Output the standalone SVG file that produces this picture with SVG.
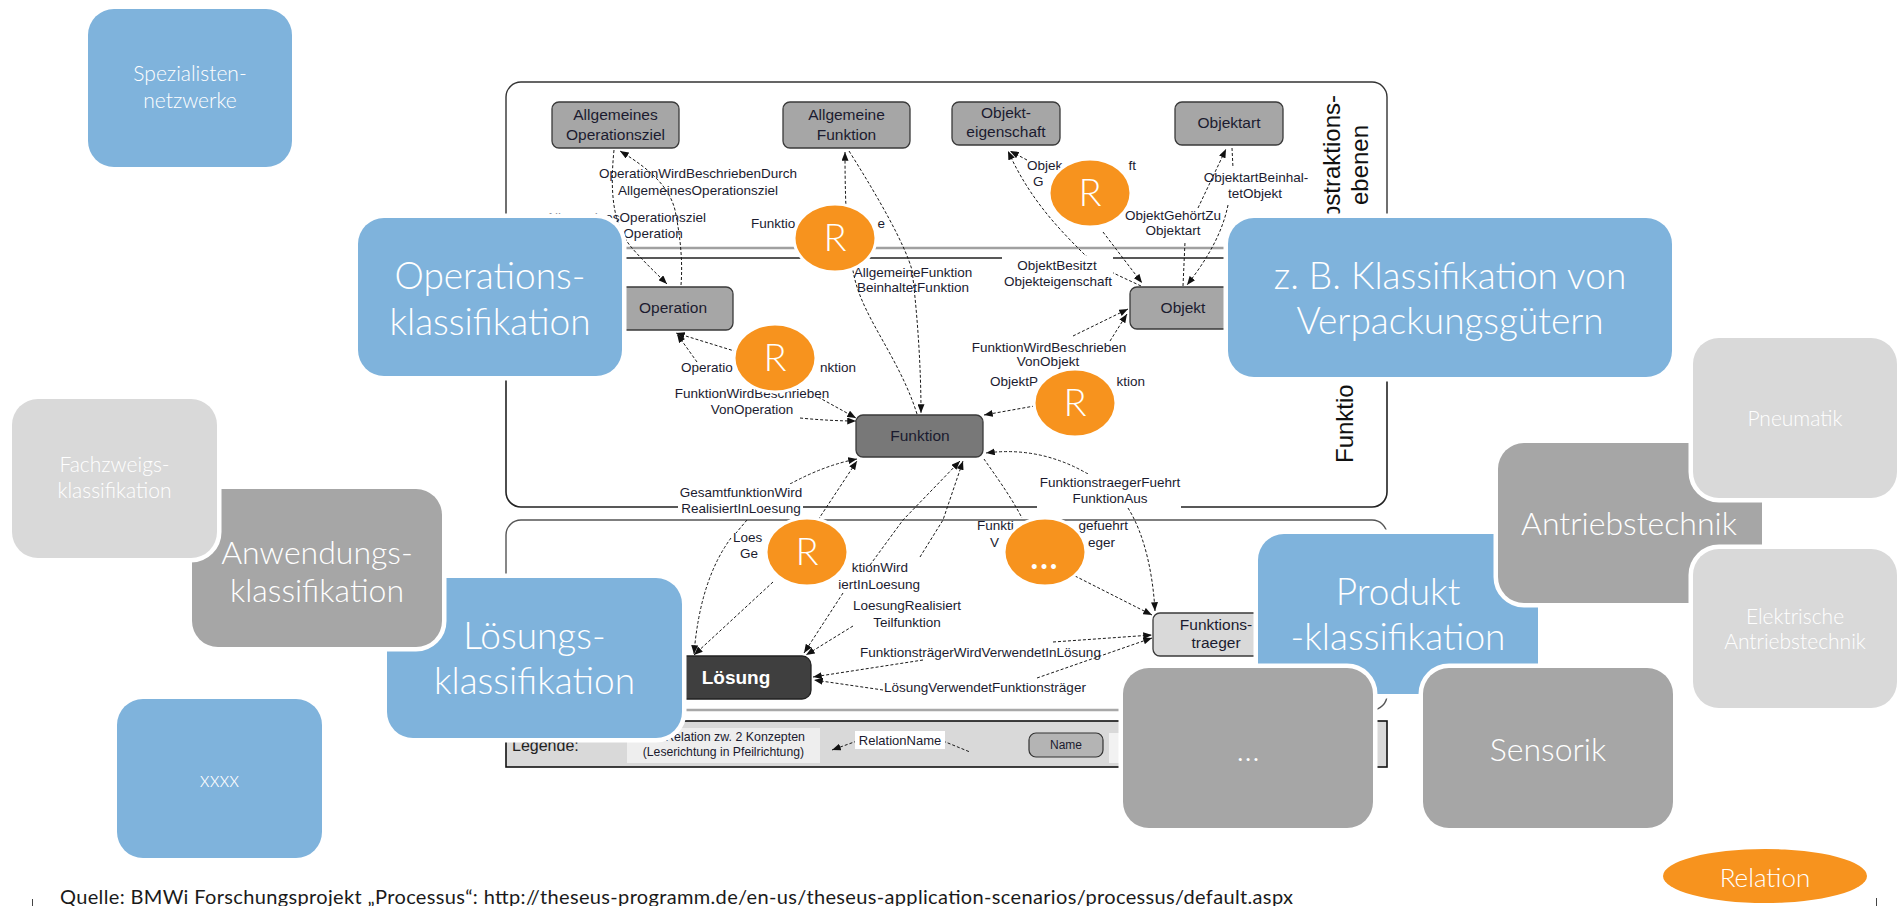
<svg xmlns="http://www.w3.org/2000/svg" width="1898" height="906" viewBox="0 0 1898 906">
  <style>
    .cont { fill: none; stroke: #333; stroke-width: 1.4; }
    .node { fill: #a6a6a6; stroke: #3a3a3a; stroke-width: 1.3; }
    .node.dark { fill: #787878; }
    .node.pale { fill: #d9d9d9; }
    .nt { font-family: "Liberation Sans", Arial, sans-serif; font-size: 15.5px; fill: #1b1b2f; text-anchor: middle; }
    .nt.inv { fill: #fff; font-weight: bold; font-size: 19px; }
    .el { font-family: "Liberation Sans", Arial, sans-serif; font-size: 13.5px; fill: #1b1b2f; text-anchor: middle; }
    .st { text-anchor: start; }
    .en { text-anchor: end; }
    .dl { fill: none; stroke: #1a1a1a; stroke-width: 1; stroke-dasharray: 3 2; }
    .arr { marker-end: url(#ah); }
    .rel { fill: #f7931e; stroke: #fff; stroke-width: 3; }
    .rt { font-family: "Lato", "Open Sans", sans-serif; font-weight: 300; font-size: 38px; fill: #fff; text-anchor: middle; }
    .ov { stroke: #fff; stroke-width: 9; paint-order: stroke; }
    .blue { fill: #7fb3dc; }
    .grey { fill: #a6a6a6; }
    .light { fill: #d9d9d9; }
    .ot { font-family: "Lato", "Open Sans", sans-serif; font-weight: 300; fill: #fff; text-anchor: middle; }
    .big { font-size: 37px; }
    .mid { font-size: 32px; }
    .sm { font-size: 21px; }
  </style>
  <defs>
    <marker id="ah" viewBox="0 0 10 8" refX="10" refY="4" markerWidth="9" markerHeight="7" markerUnits="userSpaceOnUse" orient="auto">
      <path d="M0,0 L10,4 L0,8 z" fill="#111"/>
    </marker>
  </defs>

  <rect width="1898" height="906" fill="#fff"/>

  <!-- layered concept model -->
  <g id="layers">
    <rect class="cont" x="506" y="82" width="881" height="166" rx="15"/>
    <line x1="521" y1="248" x2="1372" y2="248" stroke="#a0a0a0" stroke-width="2.5"/>
    <rect class="cont" x="506" y="258" width="881" height="249" rx="15" style="stroke:#222;stroke-width:1.6"/>
    <rect class="cont" x="506" y="520" width="881" height="190" rx="15" style="stroke:#555"/>
    <line x1="521" y1="710" x2="1372" y2="710" stroke="#a8a8a8" stroke-width="2.5"/>
    <text font-family="Liberation Sans, Arial, sans-serif" font-size="24" fill="#111" text-anchor="middle" transform="translate(1340,165) rotate(-90)">Abstraktions-</text>
    <text font-family="Liberation Sans, Arial, sans-serif" font-size="24" fill="#111" text-anchor="middle" transform="translate(1368,165) rotate(-90)">ebenen</text>
    <text font-family="Liberation Sans, Arial, sans-serif" font-size="24" fill="#111" transform="translate(1353,463) rotate(-90)">Funktio</text>
  </g>

  <!-- connectors of the concept model -->
  <g id="connectors">
    <path class="dl arr" d="M614,150 C610,190 612,225 632,248 C645,263 655,272 667,284"/>
    <path class="dl arr" d="M681,285 C683,260 680,235 675,210 C670,190 655,172 620,151"/>
    <path class="dl arr" d="M917,414 C900,360 865,320 855,280 C848,250 845,220 845,152"/>
    <path class="dl arr" d="M849,151 C880,200 905,245 912,270 C918,320 921,370 921,413"/>
    <path class="dl arr" d="M1141,286 C1120,276 1100,268 1085,255 C1060,230 1030,200 1008,151"/>
    <path class="dl arr" d="M1027,160 L1010,151"/>
    <path class="dl arr" d="M1103,232 L1142,283"/>
    <path class="dl" d="M1183,286 L1185,242"/>
    <path class="dl arr" d="M1198,208 L1226,149"/>
    <path class="dl" d="M1232,148 L1233,168"/>
    <path class="dl arr" d="M1228,205 C1222,235 1205,262 1187,285"/>
    <path class="dl arr" d="M770,362 L676,333"/>
    <path class="dl arr" d="M697,362 L677,334"/>
    <path class="dl arr" d="M818,397 L856,418"/>
    <path class="dl arr" d="M800,418 C820,420 840,421 856,421"/>
    <path class="dl arr" d="M1073,336 L1128,309"/>
    <path class="dl arr" d="M1110,341 L1127,314"/>
    <path class="dl arr" d="M1040,405 L984,415"/>
    <path class="dl arr" d="M1088,474 Q1040,446 986,453"/>
    <path class="dl arr" d="M1128,508 C1145,535 1153,575 1155,611"/>
    <path class="dl" d="M984,459 C995,475 1010,495 1022,518"/>
    <path class="dl arr" d="M1075,576 L1152,615"/>
    <path class="dl arr" d="M1053,642 L1152,635"/>
    <path class="dl arr" d="M1037,678 L1152,638"/>
    <path class="dl arr" d="M923,660 L813,677"/>
    <path class="dl arr" d="M883,690 L814,680"/>
    <path class="dl arr" d="M790,484 Q825,465 857,459"/>
    <path class="dl arr" d="M818,520 L857,461"/>
    <path class="dl arr" d="M870,565 L903,520 L960,461"/>
    <path class="dl arr" d="M920,557 L943,520 L963,461"/>
    <path class="dl arr" d="M773,582 L694,655"/>
    <path class="dl arr" d="M731,538 Q700,580 694,654"/>
    <path class="dl" d="M747,520 L736,533"/>
    <path class="dl arr" d="M843,593 L804,653"/>
    <path class="dl arr" d="M853,626 L806,655"/>
  </g>

  <!-- edge labels -->
  <g id="edge-labels">
    <text class="el" x="698" y="178">OperationWirdBeschriebenDurch</text>
    <text class="el" x="698" y="195">AllgemeinesOperationsziel</text>
    <text class="el" x="626" y="222">AllgemeinesOperationsziel</text>
    <text class="el" x="623" y="238">BeinhaltetOperation</text>
    <text class="el st" x="751" y="228">Funktio</text>
    <text class="el en" x="885" y="228">e</text>
    <text class="el" x="913" y="277">AllgemeineFunktion</text>
    <text class="el" x="913" y="292">BeinhaltetFunktion</text>
    <text class="el st" x="1027" y="170">Objek</text>
    <text class="el en" x="1136" y="170">ft</text>
    <text class="el st" x="1033" y="186">G</text>
    <text class="el" x="1173" y="220">ObjektGehörtZu</text>
    <text class="el" x="1173" y="235">Objektart</text>
    <text class="el" x="1256" y="182">ObjektartBeinhal-</text>
    <text class="el" x="1255" y="198">tetObjekt</text>
    <rect x="1002" y="256" width="111" height="34" fill="#fff"/>
    <text class="el" x="1057" y="270">ObjektBesitzt</text>
    <text class="el" x="1058" y="286">Objekteigenschaft</text>
    <text class="el st" x="681" y="372">Operatio</text>
    <text class="el en" x="856" y="372">nktion</text>
    <text class="el" x="752" y="398">FunktionWirdBeschrieben</text>
    <text class="el" x="752" y="414">VonOperation</text>
    <text class="el" x="1049" y="352">FunktionWirdBeschrieben</text>
    <text class="el" x="1048" y="366">VonObjekt</text>
    <text class="el st" x="990" y="386">ObjektP</text>
    <text class="el en" x="1145" y="386">ktion</text>
    <rect x="1037" y="474" width="144" height="34" fill="#fff"/>
    <text class="el" x="1110" y="487">FunktionstraegerFuehrt</text>
    <text class="el" x="1110" y="503">FunktionAus</text>
    <rect x="678" y="484" width="125" height="34" fill="#fff"/>
    <text class="el" x="741" y="497">GesamtfunktionWird</text>
    <text class="el" x="741" y="513">RealisiertInLoesung</text>
    <text class="el st" x="733" y="542">Loes</text>
    <text class="el st" x="740" y="558">Ge</text>
    <text class="el en" x="908" y="572">ktionWird</text>
    <text class="el en" x="920" y="589">iertInLoesung</text>
    <text class="el" x="907" y="610">LoesungRealisiert</text>
    <text class="el" x="907" y="627">Teilfunktion</text>
    <text class="el st" x="860" y="657">FunktionsträgerWirdVerwendetInLösung</text>
    <text class="el st" x="884" y="692">LösungVerwendetFunktionsträger</text>
    <text class="el st" x="977" y="530">Funkti</text>
    <text class="el en" x="1128" y="530">gefuehrt</text>
    <text class="el st" x="990" y="547">V</text>
    <text class="el en" x="1115" y="547">eger</text>
  </g>

  <!-- concept nodes -->
  <g id="node-allg-opziel">
    <rect class="node" x="552" y="102" width="127" height="46" rx="7"/>
    <text class="nt" x="615.5" y="120">Allgemeines</text>
    <text class="nt" x="615.5" y="140">Operationsziel</text>
  </g>
  <g id="node-allg-funktion">
    <rect class="node" x="783" y="102" width="127" height="46" rx="7"/>
    <text class="nt" x="846.5" y="120">Allgemeine</text>
    <text class="nt" x="846.5" y="140">Funktion</text>
  </g>
  <g id="node-objekteigenschaft">
    <rect class="node" x="952" y="102" width="108" height="43" rx="7"/>
    <text class="nt" x="1006" y="118">Objekt-</text>
    <text class="nt" x="1006" y="137">eigenschaft</text>
  </g>
  <g id="node-objektart">
    <rect class="node" x="1175" y="102" width="108" height="43" rx="7"/>
    <text class="nt" x="1229" y="128">Objektart</text>
  </g>
  <g id="node-operation">
    <rect class="node" x="612" y="287" width="121" height="43" rx="7"/>
    <text class="nt" x="673" y="313">Operation</text>
  </g>
  <g id="node-objekt">
    <rect class="node" x="1130" y="287" width="110" height="42" rx="7"/>
    <text class="nt" x="1183" y="313">Objekt</text>
  </g>
  <g id="node-funktion">
    <rect class="node dark" x="856" y="415" width="127" height="42" rx="7"/>
    <text class="nt" x="920" y="441">Funktion</text>
  </g>
  <g id="node-loesung">
    <rect x="660" y="656" width="151" height="43" rx="9" fill="#3f3f3f" stroke="#222" stroke-width="1.3"/>
    <text class="nt inv" x="736" y="684">Lösung</text>
  </g>
  <g id="node-funktionstraeger">
    <rect class="node pale" x="1153" y="613" width="127" height="43" rx="7"/>
    <text class="nt" x="1216" y="630">Funktions-</text>
    <text class="nt" x="1216" y="648">traeger</text>
  </g>

  <!-- legend -->
  <g id="legend">
    <rect x="506" y="721" width="881" height="46" fill="#d9d9d9" stroke="#111" stroke-width="1.6"/>
    <text x="512" y="751" font-family="Liberation Sans, Arial, sans-serif" font-size="16" fill="#222">Legende:</text>
    <rect x="627" y="728" width="193" height="35" fill="#eeeeee"/>
    <text class="el en" x="805" y="741" style="font-size:12.4px">Relation zw. 2 Konzepten</text>
    <text class="el en" x="804" y="756" style="font-size:12.2px">(Leserichtung in Pfeilrichtung)</text>
    <path class="dl" d="M943,741 L970,752"/>
    <path class="dl arr" d="M857,741 L832,750"/>
    <rect x="855" y="731" width="90" height="18" fill="#fff"/>
    <text class="el" x="900" y="745" style="font-size:13px">RelationName</text>
    <rect x="1029" y="733" width="74" height="24" rx="7" fill="#b4b4b4" stroke="#333" stroke-width="1.2"/>
    <text class="el" x="1066" y="749" style="font-size:12px">Name</text>
    <rect x="1109" y="733" width="40" height="30" fill="#f2f2f2"/>
  </g>

  <!-- relation markers -->
  <g id="rel-1"><ellipse class="rel" cx="835" cy="238" rx="41" ry="34"/><text class="rt" x="835" y="251">R</text></g>
  <g id="rel-2"><ellipse class="rel" cx="1090" cy="193" rx="41" ry="34"/><text class="rt" x="1090" y="206">R</text></g>
  <g id="rel-3"><ellipse class="rel" cx="775" cy="358" rx="41" ry="34"/><text class="rt" x="775" y="371">R</text></g>
  <g id="rel-4"><ellipse class="rel" cx="1075" cy="403" rx="41" ry="34"/><text class="rt" x="1075" y="416">R</text></g>
  <g id="rel-5"><ellipse class="rel" cx="807" cy="552" rx="41" ry="34"/><text class="rt" x="807" y="565">R</text></g>
  <g id="rel-more"><ellipse class="rel" cx="1045" cy="552" rx="41" ry="34"/><text class="rt" x="1045" y="569" style="font-weight:bold;font-size:32px;letter-spacing:2px">...</text></g>

  <!-- classification tiles, left -->
  <g id="tile-spezialisten">
    <rect class="ov blue" x="88" y="9" width="204" height="158" rx="26"/>
    <text class="ot sm" x="190" y="81">Spezialisten-</text>
    <text class="ot sm" x="190" y="108">netzwerke</text>
  </g>
  <g id="tile-operations">
    <rect class="ov blue" x="358" y="218" width="264" height="158" rx="26"/>
    <text class="ot big" x="490" y="289">Operations-</text>
    <text class="ot big" x="490" y="335">klassifikation</text>
  </g>
  <g id="tile-loesungs">
    <rect class="ov blue" x="387" y="578" width="295" height="160" rx="26"/>
    <text class="ot big" x="534.5" y="649">Lösungs-</text>
    <text class="ot big" x="534.5" y="694">klassifikation</text>
  </g>
  <g id="tile-anwendungs">
    <rect class="ov grey" x="192" y="489" width="250" height="158" rx="26"/>
    <text class="ot mid" x="317" y="564">Anwendungs-</text>
    <text class="ot mid" x="317" y="602">klassifikation</text>
  </g>
  <g id="tile-fachzweigs">
    <rect class="ov light" x="12" y="399" width="205" height="159" rx="26"/>
    <text class="ot sm" x="114.5" y="472">Fachzweigs-</text>
    <text class="ot sm" x="114.5" y="498">klassifikation</text>
  </g>
  <g id="tile-xxxx">
    <rect class="ov blue" x="117" y="699" width="205" height="159" rx="26"/>
    <text class="ot sm" x="219.5" y="787">xxxx</text>
  </g>

  <!-- classification tiles, right -->
  <g id="tile-verpackung">
    <rect class="ov blue" x="1228" y="218" width="444" height="159" rx="26"/>
    <text class="ot big" x="1450" y="289">z. B. Klassifikation von</text>
    <text class="ot big" x="1450" y="334">Verpackungsgütern</text>
  </g>
  <g id="tile-produkt">
    <rect class="ov blue" x="1258" y="534" width="280" height="160" rx="26"/>
    <text class="ot big" x="1398" y="605">Produkt</text>
    <text class="ot big" x="1398" y="650">-klassifikation</text>
  </g>
  <g id="tile-antrieb">
    <rect class="ov grey" x="1498" y="443" width="264" height="160" rx="26"/>
    <text class="ot mid" x="1629" y="535">Antriebstechnik</text>
  </g>
  <g id="tile-pneumatik">
    <rect class="ov light" x="1693" y="338" width="204" height="160" rx="26"/>
    <text class="ot sm" x="1795" y="426">Pneumatik</text>
  </g>
  <g id="tile-elektrisch">
    <rect class="ov light" x="1693" y="549" width="204" height="159" rx="26"/>
    <text class="ot sm" x="1795" y="624">Elektrische</text>
    <text class="ot sm" x="1795" y="649">Antriebstechnik</text>
  </g>
  <g id="tile-more">
    <rect class="ov grey" x="1123" y="668" width="250" height="160" rx="26"/>
    <text class="ot mid" x="1248" y="761">…</text>
  </g>
  <g id="tile-sensorik">
    <rect class="ov grey" x="1423" y="668" width="250" height="160" rx="26"/>
    <text class="ot mid" x="1548" y="761">Sensorik</text>
  </g>

  <g id="key-relation">
    <ellipse cx="1765" cy="876" rx="102" ry="27" fill="#f7931e"/>
    <text class="ot" x="1765" y="887" style="font-size:26px">Relation</text>
  </g>

  <!-- source line -->
  <g id="footer">
    <line x1="32.5" y1="899" x2="32.5" y2="906" stroke="#444" stroke-width="1"/>
    <line x1="1876.5" y1="898" x2="1876.5" y2="906" stroke="#444" stroke-width="1"/>
    <text x="60" y="904" font-family="Lato, 'Open Sans', sans-serif" font-size="20" fill="#1a1a1a" textLength="1233" lengthAdjust="spacing">Quelle: BMWi Forschungsprojekt „Processus“: http://theseus-programm.de/en-us/theseus-application-scenarios/processus/default.aspx</text>
  </g>
</svg>
